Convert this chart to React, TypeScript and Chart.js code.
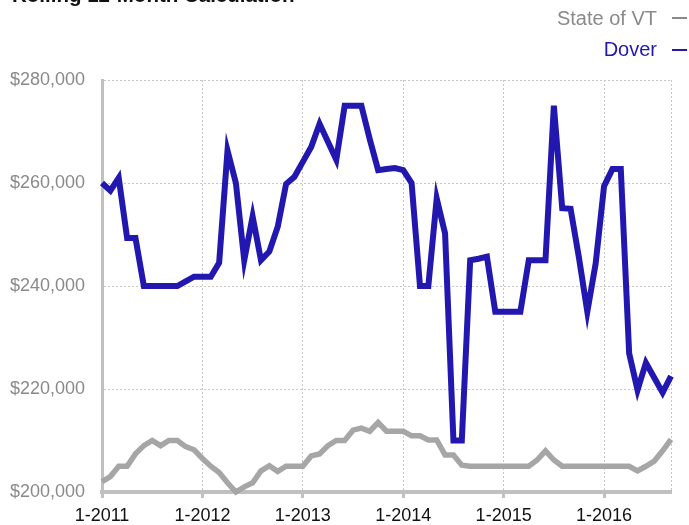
import React, { useEffect, useRef } from "react";
import { Chart, registerables } from "chart.js";

Chart.register(...registerables);

const START_YEAR = 2011;
const MONTH_COUNT = 69;
const monthLabels: string[] = [];
for (let i = 0; i < MONTH_COUNT; i++) {
  monthLabels.push(`${(i % 12) + 1}-${START_YEAR + Math.floor(i / 12)}`);
}

const doverValues = [
  260000, 258500, 261000, 249300, 249300, 240000, 240000, 240000, 240000, 240000, 240900, 241800,
  241800, 241800, 244500, 266300, 260000, 245000, 253500, 245000, 246700, 251500, 259800, 261200,
  264100, 267000, 271500, 268000, 264500, 275000, 275000, 275000, 268500, 262500, 262700, 262900,
  262500, 260000, 240000, 240000, 257000, 250200, 210000, 210000, 245000, 245300, 245700, 235000,
  235000, 235000, 235000, 245000, 245000, 245000, 275000, 255100, 255000, 245500, 235000, 244400,
  259400, 262700, 262700, 226900, 219800, 225100, 222200, 219300, 222500,
];

const vtValues = [
  202000, 203000, 205000, 205000, 207400, 209000, 210000, 209000, 210000, 210000, 208800, 208200,
  206500, 205000, 203800, 201800, 200000, 201000, 201800, 204100, 205100, 204000, 205000, 205000,
  205000, 207000, 207400, 209000, 210000, 210000, 212000, 212400, 211800, 213500, 211800, 211800,
  211800, 210900, 210900, 210100, 210100, 207200, 207200, 205200, 205000, 205000, 205000, 205000,
  205000, 205000, 205000, 205000, 206200, 208000, 206200, 205000, 205000, 205000, 205000, 205000,
  205000, 205000, 205000, 205000, 204100, 205000, 206000, 208000, 210200,
];

const Y_MIN = 200000;
const Y_MAX = 280000;
const Y_STEP = 20000;

const TITLE = "Rolling 12-Month Calculation";
const SERIES_NAMES = ["State of VT", "Dover"];

const BLUE = "#2218b0";
const GRAY_LINE = "#a6a6a6";
const AXIS = "#c0c0c0";
const GRID = "#c6c6c6";
const FONT = "'Liberation Sans', Arial, Helvetica, sans-serif";

export default function App() {
  const ref = useRef<HTMLCanvasElement>(null);

  useEffect(() => {
    const chart = new Chart(ref.current!, {
      type: "line",
      data: {
        labels: monthLabels,
        datasets: [
          {
            label: SERIES_NAMES[1],
            data: doverValues,
            borderColor: BLUE,
            backgroundColor: BLUE,
            borderWidth: 6,
            pointRadius: 0,
            tension: 0,
            clip: false as any,
          },
          {
            label: SERIES_NAMES[0],
            data: vtValues,
            borderColor: GRAY_LINE,
            backgroundColor: GRAY_LINE,
            borderWidth: 5.5,
            pointRadius: 0,
            tension: 0,
            clip: false as any,
          },
        ],
      },
      options: {
        responsive: false,
        animation: false,
        layout: { padding: { top: 80, right: 18, left: 0, bottom: 0 } },
        plugins: {
          legend: { display: false },
          title: { display: false },
          tooltip: { enabled: false },
        },
        scales: {
          x: {
            type: "category",
            offset: false,
            grid: {
              color: (ctx: any) =>
                ctx.index % 12 === 0 || ctx.index === MONTH_COUNT - 1 ? GRID : "rgba(0,0,0,0)",
              lineWidth: 1,
              drawTicks: true,
              tickLength: 6,
              tickWidth: 3,
              tickColor: (ctx: any) => (ctx.index % 12 === 0 ? AXIS : "rgba(0,0,0,0)"),
            },
            border: { display: true, color: AXIS, width: 4, dash: [2, 2] },
            ticks: {
              autoSkip: false,
              maxRotation: 0,
              minRotation: 0,
              padding: 7,
              color: "#111",
              font: { family: FONT, size: 18 },
              callback: (_v: any, i: number) => (i % 12 === 0 ? monthLabels[i] : ""),
            },
            afterFit: (s: any) => {
              s.height = 33;
            },
          },
          y: {
            min: Y_MIN,
            max: Y_MAX,
            ticks: {
              stepSize: Y_STEP,
              color: "#8a8a8a",
              padding: 17,
              font: { family: FONT, size: 18 },
              callback: (v: any) => "$" + Number(v).toLocaleString("en-US"),
            },
            grid: { color: GRID, drawTicks: false, lineWidth: 1 },
            border: { display: true, color: AXIS, width: 3, dash: [2, 2] },
            afterFit: (s: any) => {
              s.width = 102;
            },
          },
        },
      },
    });
    return () => chart.destroy();
  }, []);

  const textBase: React.CSSProperties = {
    position: "absolute",
    fontFamily: FONT,
    fontSize: 20,
    lineHeight: "20px",
    whiteSpace: "nowrap",
  };

  return (
    <div style={{ position: "absolute", left: 0, top: 0, width: 689, height: 525, overflow: "hidden", background: "#fff" }}>
      <canvas ref={ref} width={689} height={525} style={{ display: "block", width: 689, height: 525 }} />
      <div style={{ ...textBase, left: 12, top: -15, fontSize: 20.5, fontWeight: "bold", color: "#111" }}>{TITLE}</div>
      <div style={{ ...textBase, right: 32, top: 8, color: "#8a8a8a", textAlign: "right" }}>{SERIES_NAMES[0]}</div>
      <div style={{ position: "absolute", left: 672, top: 17, width: 15, height: 2, background: "#8a8a8a" }} />
      <div style={{ ...textBase, right: 32, top: 39, color: BLUE, textAlign: "right" }}>{SERIES_NAMES[1]}</div>
      <div style={{ position: "absolute", left: 672, top: 49, width: 15, height: 2, background: BLUE }} />
    </div>
  );
}
